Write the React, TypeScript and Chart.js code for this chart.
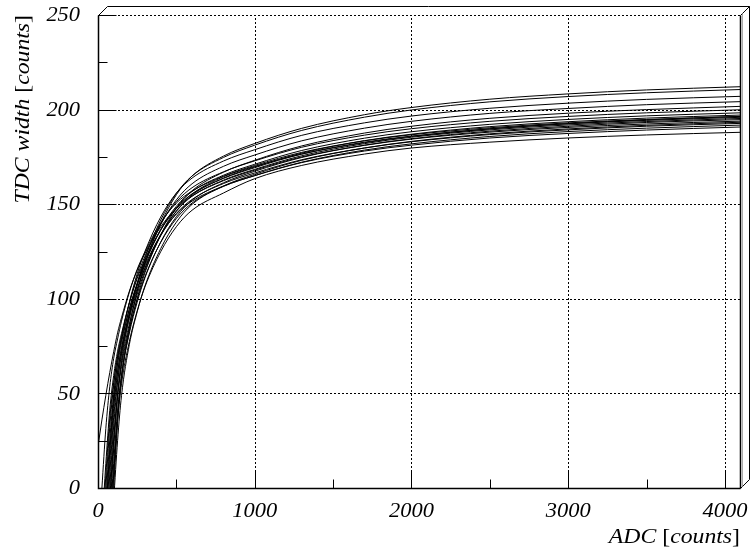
import React, { useEffect, useRef } from "react";
import { Chart, registerables } from "chart.js";

Chart.register(...registerables);

// ADC sample positions (counts)
const xs = [0, 25, 50, 75, 100, 125, 150, 200, 250, 300, 400, 500, 600, 800, 1000, 1300, 1700, 2000, 2500, 3000, 3500, 4096];

// TDC width per channel (values below 0 are clipped by the frame)
const c01 = [-150, -112.4, -74.9, -37.5, 0, 34.0, 57.8, 85.2, 103.8, 118.6, 139.7, 155.0, 164.9, 175.4, 182.1, 190.1, 197.3, 201.1, 205.5, 208.3, 210.4, 212.1];
const c02 = [-126.4, -89.2, -52.0, -14.9, 20.6, 48.9, 67.5, 90.6, 107.8, 121.5, 141.6, 155.7, 164.9, 174.7, 181.2, 189.0, 196.0, 199.8, 204.1, 206.9, 208.9, 210.6];
const c03 = [-87.7, -51.2, -14.6, 20.3, 48.0, 66.4, 79.1, 98.1, 113.2, 125.1, 143.2, 155.9, 163.8, 172.8, 178.8, 186.4, 193.0, 196.6, 200.7, 203.4, 205.4, 207.0];
const c04 = [-108.2, -72.1, -36.1, 0, 32.8, 55.6, 71.3, 91.8, 107.6, 120.3, 139.2, 152.3, 160.8, 170.0, 176.0, 183.5, 190.2, 193.8, 198.0, 200.6, 202.6, 204.2];
const c05 = [-135.3, -99.7, -64.1, -28.5, 7.1, 38.6, 59.0, 82.9, 100.2, 113.9, 133.7, 147.9, 157.1, 166.9, 173.2, 180.8, 187.6, 191.2, 195.4, 198.1, 200.0, 201.7];
const c06 = [-70.6, -35.3, 0, 32.1, 54.4, 69.8, 80.2, 97.8, 111.7, 122.6, 139.6, 151.3, 158.7, 167.1, 172.9, 180.1, 186.5, 189.9, 193.8, 196.4, 198.3, 199.9];
const c07 = [-91, -56, -21, 13.2, 42.0, 60.8, 73.9, 92.5, 107.2, 118.9, 136.6, 148.9, 156.7, 165.3, 171.1, 178.4, 184.9, 188.3, 192.2, 194.8, 196.7, 198.3];
const c08 = [-111.3, -76.5, -41.7, -7.0, 25.4, 49.7, 66.0, 86.7, 102.4, 114.9, 133.4, 146.4, 154.8, 163.8, 169.7, 177.0, 183.6, 187.0, 191.0, 193.6, 195.5, 197.1];
const c09 = [-76.1, -41.5, -6.9, 25.3, 49.4, 65.6, 76.8, 94.4, 108.3, 119.3, 136.2, 147.9, 155.3, 163.6, 169.3, 176.5, 182.8, 186.0, 189.9, 192.5, 194.3, 195.9];
const c10 = [-96.5, -62.1, -27.6, 6.9, 37.4, 57.1, 70.9, 89.6, 104.4, 116.2, 134.0, 146.3, 154.2, 162.7, 168.4, 175.6, 182.0, 185.4, 189.3, 191.9, 193.7, 195.3];
const c11 = [-123.7, -89.4, -55.0, -20.6, 13.0, 41.2, 59.7, 81.9, 98.2, 111.2, 130.0, 143.4, 152.1, 161.3, 167.4, 174.7, 181.2, 184.6, 188.6, 191.2, 193.2, 194.7];
const c12 = [-54.8, -20.5, 12.9, 41.1, 59.5, 72.3, 81.6, 97.8, 110.7, 120.7, 136.6, 147.6, 154.3, 162.4, 168.0, 175.0, 181.1, 184.4, 188.1, 190.6, 192.4, 193.9];
const c13 = [-143.3, -109.2, -75.1, -41.0, -6.8, 25.0, 48.8, 75.8, 93.1, 106.9, 126.5, 140.5, 149.9, 159.6, 165.8, 173.2, 179.7, 183.2, 187.2, 189.8, 191.7, 193.3];
const c14 = [-81.6, -47.6, -13.6, 18.9, 44.7, 61.8, 73.7, 91.4, 105.4, 116.4, 133.4, 145.1, 152.5, 160.9, 166.5, 173.5, 179.7, 183.0, 186.8, 189.3, 191.2, 192.7];
const c15 = [-108.3, -74.5, -40.6, -6.8, 24.8, 48.4, 64.2, 84.3, 99.6, 111.8, 129.8, 142.4, 150.6, 159.4, 165.1, 172.2, 178.6, 181.9, 185.8, 188.4, 190.2, 191.8];
const c16 = [-60.6, -26.9, 6.7, 36.6, 55.8, 69.3, 78.4, 94.8, 107.7, 117.8, 133.8, 144.8, 151.6, 159.6, 165.1, 172.0, 178.1, 181.2, 185.0, 187.4, 189.2, 190.8];
const c17 = [-126.4, -93.1, -59.9, -26.6, 6.7, 36.1, 55.1, 77.4, 93.6, 106.4, 124.9, 138.1, 146.8, 155.9, 163.5, 170.5, 176.5, 179.7, 182.8, 185.0, 186.6, 188.0];
const c18 = [-34.7, 0, 31.5, 53.5, 68.5, 78.8, 88.2, 103.5, 115.6, 124.8, 140.2, 150.6, 156.9, 164.8, 170.5, 177.4, 183.5, 186.7, 190.4, 193.0, 194.8, 196.4];
const c19 = [22, 36, 49, 61, 72, 82, 90, 104, 115, 124, 138, 148, 155.5, 164.5, 170, 176.5, 182.5, 185.8, 189.8, 192.6, 194.6, 196.4];

const curves = [c01, c02, c03, c04, c05, c06, c07, c08, c09, c10, c11, c12, c13, c14, c15, c16, c17, c18, c19];

// Axis ticks
const xMajor = [0, 1000, 2000, 3000, 4000];
const xMinor = [500, 1500, 2500, 3500];
const yMajor = [0, 50, 100, 150, 200, 250];
const yMinor = [25, 75, 125, 175, 225];
const xLabels = ["0", "1000", "2000", "3000", "4000"];
const yLabels = ["0", "50", "100", "150", "200", "250"];

const SERIF = '"Liberation Serif", "Times New Roman", serif';

type Seg = { t: string; italic: boolean };

function drawRich(ctx: CanvasRenderingContext2D, segs: Seg[], size: number, sx: number, align: "left" | "right" | "center") {
  let w = 0;
  const widths: number[] = [];
  for (const s of segs) {
    ctx.font = `${s.italic ? "italic " : ""}${size}px ${SERIF}`;
    const m = ctx.measureText(s.t).width;
    widths.push(m);
    w += m;
  }
  let start = align === "right" ? -w : align === "center" ? -w / 2 : 0;
  ctx.save();
  ctx.scale(sx, 1);
  let cx = start;
  segs.forEach((s, i) => {
    ctx.font = `${s.italic ? "italic " : ""}${size}px ${SERIF}`;
    ctx.textAlign = "left";
    ctx.fillText(s.t, cx, 0);
    cx += widths[i];
  });
  ctx.restore();
}

const framePlugin = {
  id: "rootFrame",
  beforeDatasetsDraw(chart: any) {
    const { ctx, chartArea: a, scales } = chart;
    const xs_ = scales.x;
    const ys_ = scales.y;
    ctx.save();
    ctx.strokeStyle = "#000";
    ctx.lineWidth = 1;
    ctx.setLineDash([2, 2]);
    for (const v of xMajor) {
      const px = Math.round(xs_.getPixelForValue(v)) + 0.5;
      ctx.beginPath();
      ctx.moveTo(px, a.bottom);
      ctx.lineTo(px, a.top);
      ctx.stroke();
    }
    for (const v of yMajor) {
      const py = Math.round(ys_.getPixelForValue(v)) + 0.5;
      ctx.beginPath();
      ctx.moveTo(a.left, py);
      ctx.lineTo(a.right, py);
      ctx.stroke();
    }
    ctx.restore();
  },
  afterDatasetsDraw(chart: any) {
    const { ctx, chartArea: a, scales } = chart;
    const xs_ = scales.x;
    const ys_ = scales.y;
    const L = Math.round(a.left) + 0.5;
    const R = Math.round(a.right) + 0.5;
    const T = Math.round(a.top) + 0.5;
    const B = Math.round(a.bottom) + 0.5;
    const d = 9;
    ctx.save();
    ctx.setLineDash([]);
    ctx.strokeStyle = "#000";
    // 3D frame
    ctx.lineWidth = 1;
    ctx.beginPath();
    ctx.moveTo(L, T);
    ctx.lineTo(L + d, T - d);
    ctx.lineTo(R + d, T - d);
    ctx.lineTo(R + d, B - d);
    ctx.lineTo(R, B);
    ctx.moveTo(R, T);
    ctx.lineTo(R + d, T - d);
    ctx.stroke();
    ctx.strokeStyle = "#aaa";
    ctx.beginPath();
    ctx.moveTo(R + 2, T - 2);
    ctx.lineTo(R + 2, B - 2);
    ctx.stroke();
    ctx.strokeStyle = "#000";
    ctx.lineWidth = 1.5;
    ctx.beginPath();
    ctx.moveTo(R, T);
    ctx.lineTo(R, B);
    ctx.moveTo(L, T);
    ctx.lineTo(L, B);
    ctx.lineTo(R, B);
    ctx.stroke();
    // ticks
    ctx.lineWidth = 1;
    ctx.beginPath();
    for (const v of xMajor) {
      const px = Math.round(xs_.getPixelForValue(v)) + 0.5;
      ctx.moveTo(px, B);
      ctx.lineTo(px, B - 18);
    }
    for (const v of xMinor) {
      const px = Math.round(xs_.getPixelForValue(v)) + 0.5;
      ctx.moveTo(px, B);
      ctx.lineTo(px, B - 9);
    }
    for (const v of yMajor) {
      const py = Math.round(ys_.getPixelForValue(v)) + 0.5;
      ctx.moveTo(L, py);
      ctx.lineTo(L + 18, py);
    }
    for (const v of yMinor) {
      const py = Math.round(ys_.getPixelForValue(v)) + 0.5;
      ctx.moveTo(L, py);
      ctx.lineTo(L + 9, py);
    }
    ctx.stroke();
    // tick labels
    ctx.fillStyle = "#000";
    ctx.textBaseline = "alphabetic";
    xMajor.forEach((v, i) => {
      const px = xs_.getPixelForValue(v);
      ctx.save();
      ctx.translate(px, a.bottom + 29);
      drawRich(ctx, [{ t: xLabels[i], italic: true }], 20, 1.12, "center");
      ctx.restore();
    });
    ctx.textBaseline = "middle";
    yMajor.forEach((v, i) => {
      const py = ys_.getPixelForValue(v);
      ctx.save();
      ctx.translate(a.left - 18, py + 1);
      drawRich(ctx, [{ t: yLabels[i], italic: true }], 20, 1.12, "right");
      ctx.restore();
    });
    // axis titles
    ctx.textBaseline = "alphabetic";
    ctx.save();
    ctx.translate(a.right, a.bottom + 55);
    drawRich(
      ctx,
      [
        { t: "ADC ", italic: true },
        { t: "[", italic: false },
        { t: "counts", italic: true },
        { t: "]", italic: false },
      ],
      21,
      1.13,
      "right"
    );
    ctx.restore();
    ctx.save();
    ctx.translate(29, a.top);
    ctx.rotate(-Math.PI / 2);
    drawRich(
      ctx,
      [
        { t: "TDC width ", italic: true },
        { t: "[", italic: false },
        { t: "counts", italic: true },
        { t: "]", italic: false },
      ],
      21,
      1.13,
      "right"
    );
    ctx.restore();
    ctx.restore();
  },
};

export default function App() {
  const ref = useRef<HTMLCanvasElement | null>(null);
  useEffect(() => {
    if (!ref.current) return;
    const chart = new Chart(ref.current, {
      type: "line",
      data: {
        datasets: curves.map((vals, k) => ({
          label: `ch${k + 1}`,
          data: xs.map((x, i) => ({ x, y: vals[i] })),
          borderColor: "#000",
          borderWidth: 1,
          pointRadius: 0,
          fill: false,
          cubicInterpolationMode: "monotone" as const,
        })),
      },
      options: {
        animation: false,
        responsive: false,
        devicePixelRatio: 1,
        layout: { padding: { left: 98, top: 15, right: 10, bottom: 64 } },
        scales: {
          x: { type: "linear", min: 0, max: 4096, display: false },
          y: { type: "linear", min: 0, max: 250, display: false },
        },
        plugins: { legend: { display: false }, tooltip: { enabled: false } },
        events: [],
      },
      plugins: [framePlugin],
    });
    return () => chart.destroy();
  }, []);
  return (
    <div style={{ position: "absolute", left: 0, top: 0, width: 750, height: 552, background: "#fff" }}>
      <canvas ref={ref} width={750} height={552} style={{ width: 750, height: 552, display: "block" }} />
    </div>
  );
}
